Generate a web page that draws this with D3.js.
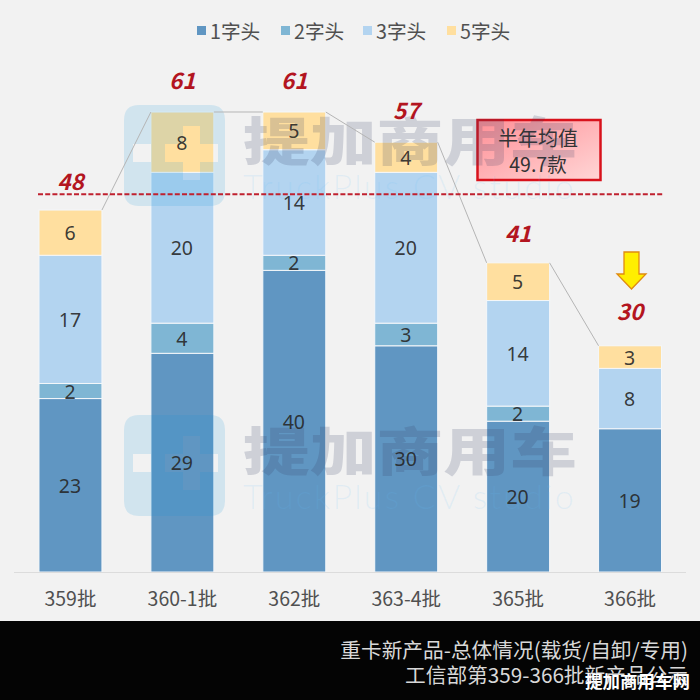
<!DOCTYPE html>
<html><head><meta charset="utf-8">
<script src="https://cdnjs.cloudflare.com/ajax/libs/d3/7.8.5/d3.min.js"></script>
<style>html,body{margin:0;padding:0;background:#f2f2f2}svg{display:block}text{font-family:"Noto Sans CJK SC","Noto Sans",sans-serif}</style>
</head><body><svg id="c" width="700" height="700"></svg>
<script>
const categories = ["359批","360-1批","362批","363-4批","365批","366批"];
const seriesNames = ["1字头","2字头","3字头","5字头"];
const head1 = [23,29,40,30,20,19];
const head2 = [2,4,2,3,2,0];
const head3 = [17,20,14,20,14,8];
const head5 = [6,8,5,4,5,3];
const totals = [48,61,61,57,41,30];
const seriesColors = ["#6096c2","#7fb6d4","#b3d4f0","#ffdf9f"];
const averageLineValue = 50.1;
const titleLines = ["重卡新产品-总体情况(载货/自卸/专用)","工信部第359-366批新产品公示"];

const svg = d3.select("#c");
const defs = svg.append("defs");
const g = defs.append("linearGradient").attr("id","pink").attr("x1","0").attr("y1","0").attr("x2","1").attr("y2","1");
g.append("stop").attr("offset","0").attr("stop-color","#ff8f96");
g.append("stop").attr("offset","1").attr("stop-color","#ffd6d6");

svg.append("rect").attr("width",700).attr("height",700).attr("fill","#f2f2f2");

const x = d3.scaleBand().domain(categories).range([14.5,686]).paddingInner(0.4375).paddingOuter(0.21875);
const y = d3.scaleLinear().domain([0,61]).range([572,112]);

const rows = categories.map((c,i)=>({cat:c,"1字头":head1[i],"2字头":head2[i],"3字头":head3[i],"5字头":head5[i]}));
const stack = d3.stack().keys(seriesNames)(rows);
const color = d3.scaleOrdinal(seriesNames,seriesColors);

// bars
stack.forEach(s=>{
  svg.append("g").selectAll("rect").data(s.filter(d=>d[1]>d[0])).join("rect")
    .attr("x",d=>x(d.data.cat)).attr("width",x.bandwidth())
    .attr("y",d=>y(d[1])).attr("height",d=>y(d[0])-y(d[1]))
    .attr("fill",color(s.key)).attr("stroke","#f4f7fa").attr("stroke-width",1);
});
// baseline
svg.append("line").attr("x1",14).attr("x2",686).attr("y1",572.5).attr("y2",572.5).attr("stroke","#dcdcdc");

// average box
svg.append("rect").attr("x",477.5).attr("y",120).attr("width",123).attr("height",60).attr("fill","url(#pink)").attr("stroke","#d8121c").attr("stroke-width",2.5);
svg.append("text").attr("x",538).attr("y",137).attr("text-anchor","middle").attr("dominant-baseline","central").attr("font-size",20).attr("fill","#333").text("半年均值");
svg.append("text").attr("x",538).attr("y",163).attr("text-anchor","middle").attr("dominant-baseline","central").attr("font-size",19.5).attr("fill","#333").text("49.7款");

// watermarks
[[105,138,185],[415,448,495]].forEach(([top,cy,en])=>{
  const w = svg.append("g").attr("pointer-events","none");
  const lp = (a,b,c,d)=>`M${a} ${top+c}H${b}V${top+d}H${a}Z`;
  const outer = `M139 ${top}H210Q225 ${top} 225 ${top+15}V${top+86}Q225 ${top+101} 210 ${top+101}H139Q124 ${top+101} 124 ${top+86}V${top+15}Q124 ${top} 139 ${top}Z`;
  const hole = lp(133,151,39,57)+` M165 ${top+39}H183V${top+21}H200V${top+39}H218V${top+57}H200V${top+75}H183V${top+57}H165Z`;
  w.append("path").attr("d",outer+hole).attr("fill-rule","evenodd").attr("fill","#1096df").attr("fill-opacity",0.14);
  w.append("text").attr("transform",`translate(243,${cy}) scale(1,0.78)`).attr("dominant-baseline","central").attr("font-size",66.8).attr("font-weight",900).attr("fill","#344164").attr("fill-opacity",0.19).text("提加商用车");
  w.append("text").attr("x",243).attr("y",en).attr("dominant-baseline","central").attr("font-size",34).attr("font-weight",300).attr("letter-spacing",2.2).attr("fill","#64c0fa").attr("fill-opacity",0.12).style("font-family","Lato").text("TruckPlus CV studio");
});

// connectors
const line = svg.append("g").attr("stroke","#b5b5b5").attr("stroke-width",1).attr("fill","none");
totals.slice(0,-1).forEach((t,i)=>{
  line.append("line").attr("x1",x(categories[i])+x.bandwidth()).attr("y1",y(t))
    .attr("x2",x(categories[i+1])).attr("y2",y(totals[i+1]));
});
// segment labels
stack.forEach(s=>{
  svg.append("g").selectAll("text").data(s.filter(d=>d[1]>d[0])).join("text")
    .attr("x",d=>x(d.data.cat)+x.bandwidth()/2-0.5).attr("y",d=>(y(d[0])+y(d[1]))/2)
    .attr("text-anchor","middle").attr("dominant-baseline","central")
    .attr("font-size",19.5).attr("fill","#262626").attr("fill-opacity",0.9)
    .style("font-family",'"Noto Sans"')
    .text(d=>d[1]-d[0]);
});
// avg line
svg.append("line").attr("x1",38).attr("x2",663).attr("y1",y(averageLineValue)).attr("y2",y(averageLineValue))
  .attr("stroke","#c0212f").attr("stroke-width",2).attr("stroke-dasharray","5 2.2");
// totals
const totalNudge = [0,-3,-3,-3,-1,-6];
svg.append("g").selectAll("text").data(totals).join("text")
  .attr("x",(d,i)=>x(categories[i])+x.bandwidth()/2).attr("y",(d,i)=>y(d)-30+totalNudge[i])
  .attr("text-anchor","middle").attr("dominant-baseline","central")
  .attr("font-size",22.5).attr("font-weight",700).attr("font-style","italic").attr("fill","#b3151f")
  .text(d=>d);
// x axis
const axis = d3.axisBottom(x).tickSize(0).tickPadding(0);
const ax = svg.append("g").attr("transform","translate(0,597)").call(axis);
ax.select(".domain").remove();
ax.selectAll("text").attr("font-size",19.5).attr("fill","#505050").attr("dy",null).attr("y",0).attr("dominant-baseline","central").style("font-family",'"Noto Sans CJK SC"');

// legend
const lx = [197,281,363,447];
const leg = svg.append("g");
seriesNames.forEach((n,i)=>{
  leg.append("rect").attr("x",lx[i]).attr("y",26).attr("width",9).attr("height",9).attr("fill",seriesColors[i]);
  leg.append("text").attr("x",lx[i]+13).attr("y",30).attr("dominant-baseline","central").attr("font-size",19.7).attr("fill","#505050").text(n);
});

// arrow
svg.append("path").attr("d",d3.line()([[624,252],[639,252],[639,274],[646,274],[631.5,289],[617,274],[624,274]])+"Z")
  .attr("fill","#ffee00").attr("stroke","#e08a10").attr("stroke-width",1.3);

// footer
svg.append("rect").attr("y",621).attr("width",700).attr("height",79).attr("fill","#040404");
svg.append("text").attr("x",688).attr("y",649).attr("text-anchor","end").attr("dominant-baseline","central").attr("font-size",20.7).attr("fill","#d8d8d8").text(titleLines[0]);
svg.append("text").attr("x",688).attr("y",674).attr("text-anchor","end").attr("dominant-baseline","central").attr("font-size",20.7).attr("fill","#d8d8d8").text(titleLines[1]);
svg.append("text").attr("x",690).attr("y",680).attr("text-anchor","end").attr("dominant-baseline","central").attr("font-size",17.5).attr("font-weight",700).attr("fill","#ffffff").text("提加商用车网");
</script></body></html>
